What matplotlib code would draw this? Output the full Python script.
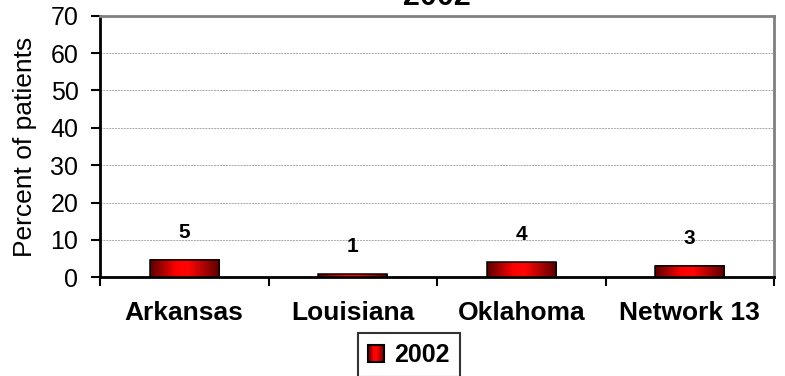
import numpy as np
import matplotlib
matplotlib.use("Agg")
import matplotlib.pyplot as plt
from matplotlib.colors import LinearSegmentedColormap
from matplotlib.patches import Rectangle, Patch
from matplotlib.legend_handler import HandlerBase

plt.rcParams['font.family'] = ['Liberation Sans', 'DejaVu Sans']

states = ['Arkansas', 'Louisiana', 'Oklahoma', 'Network 13']
pct_2002 = [4.56, 0.8, 4.0, 2.95]
year = '2002'
yticks = [0, 10, 20, 30, 40, 50, 60, 70]

# dark edges, bright red middle, like an old shaded column
cyl = LinearSegmentedColormap.from_list(
    'cyl', [(0, '#5a0000'), (0.38, '#ff0000'), (0.55, '#ff0505'), (1, '#5a0000')])


class GradientHandler(HandlerBase):
    def create_artists(self, legend, orig_handle, xdescent, ydescent,
                       width, height, fontsize, trans):
        arts = []
        n = 12
        for k in range(n):
            arts.append(Rectangle((-xdescent + width * k / n, -ydescent), width / n, height,
                                  facecolor=cyl((k + 0.5) / n), edgecolor='none',
                                  transform=trans))
        arts.append(Rectangle((-xdescent, -ydescent), width, height, facecolor='none',
                              edgecolor='black', lw=1.5, transform=trans))
        return arts


fig = plt.figure(figsize=(7.85, 3.76), dpi=100)
ax = fig.add_axes([100 / 785, 1 - 277.3 / 376, 674 / 785, 261.6 / 376])

x = np.arange(len(states))
bw = 0.41
bars = ax.bar(x, pct_2002, width=bw, facecolor='none', edgecolor='black', lw=1.1, zorder=4)

grad = np.linspace(0, 1, 256).reshape(1, -1)
for b in bars:
    ax.imshow(grad, cmap=cyl, aspect='auto', zorder=3,
              extent=[b.get_x(), b.get_x() + b.get_width(), 0, b.get_height()])

for xi, v in zip(x, pct_2002):
    ax.annotate(f'{v:.0f}', xy=(xi, v), xytext=(0, 13.5), textcoords='offset points',
                ha='center', va='bottom', fontsize=15, fontweight='bold')

ax.set_xlim(-0.5, len(states) - 0.5)
ax.set_ylim(0, 70)
ax.set_yticks(yticks)
ax.tick_params(axis='y', labelsize=18, length=6.5, width=1.5, pad=9)

# category boundaries get the tick marks, names sit in between
ax.set_xticks(np.arange(len(states) + 1) - 0.5)
ax.set_xticklabels([])
ax.set_xticks(x, minor=True)
ax.set_xticklabels(states, minor=True, fontsize=19, fontweight='bold')
ax.tick_params(axis='x', which='major', length=6.5, width=1.5)
ax.tick_params(axis='x', which='minor', length=0, pad=17)

ax.yaxis.grid(True, color='#a8a8a8', lw=0.7, linestyle=(0, (2, 1)))
ax.set_axisbelow(True)

for s in ['left', 'bottom']:
    ax.spines[s].set_color('black')
    ax.spines[s].set_linewidth(2)
for s in ['top', 'right']:
    ax.spines[s].set_color('#808080')
    ax.spines[s].set_linewidth(2)

ax.set_ylabel('Percent of patients', fontsize=19, labelpad=10)

fig.text(436.5 / 785, 1 - 5 / 376, year, ha='center', va='baseline',
         fontsize=22, fontweight='bold')

leg = fig.legend([Patch()], [year], handler_map={Patch: GradientHandler()},
                 loc='upper left', bbox_to_anchor=(358 / 785, 1 - 333 / 376),
                 prop={'size': 18, 'weight': 'bold'}, frameon=True, fancybox=False,
                 borderaxespad=0, borderpad=0.4, handlelength=0.65, handleheight=0.7,
                 handletextpad=0.4)
leg.get_frame().set_edgecolor('black')
leg.get_frame().set_linewidth(1.5)

fig.savefig('out.png', dpi=100)
